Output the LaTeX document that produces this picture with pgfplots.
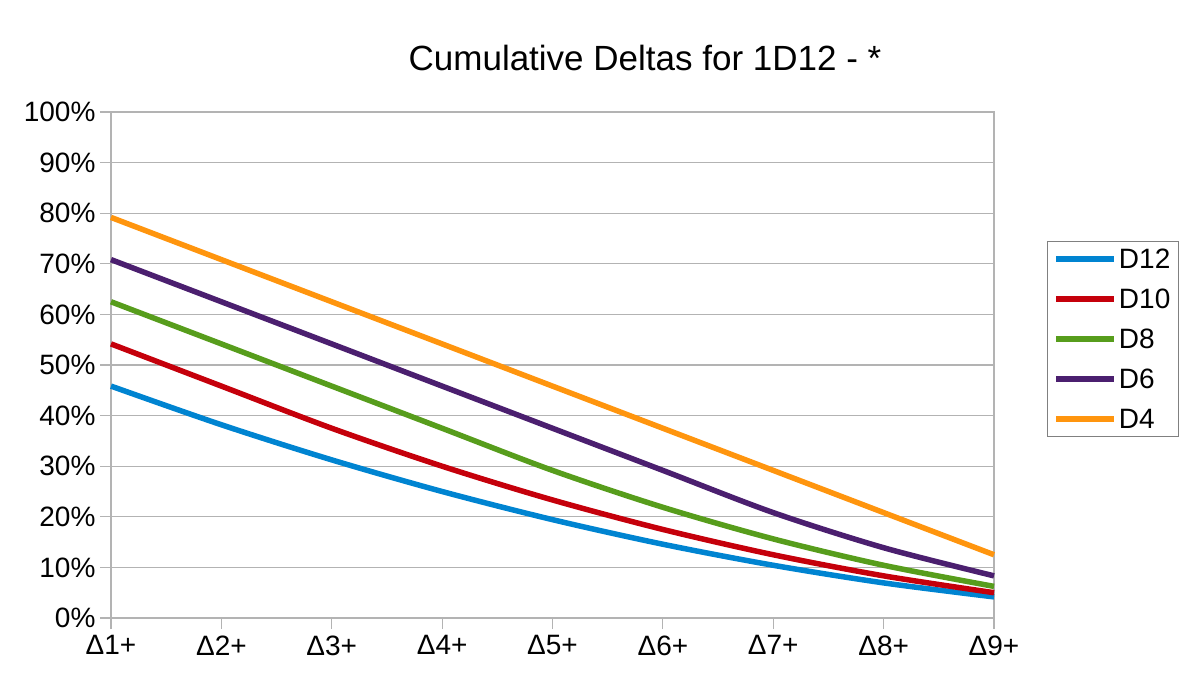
\documentclass[border=0pt]{standalone}
\usepackage{fontspec}
\setmainfont{Liberation Sans}
\usepackage{pgfplots}
\pgfplotsset{compat=1.18}

\definecolor{cD12}{HTML}{0084D1}
\definecolor{cD10}{HTML}{C5000B}
\definecolor{cD8}{HTML}{579D1C}
\definecolor{cD6}{HTML}{4B1F6F}
\definecolor{cD4}{HTML}{FF950E}
\definecolor{gridgray}{HTML}{B3B3B3}

\begin{document}
\begin{tikzpicture}[x=1pt,y=1pt]
\path[use as bounding box] (0,0) rectangle (1198,681);
\node[anchor=base, font=\fontsize{35}{40}\selectfont] at (645,610) {Cumulative Deltas for 1D12 - *};
\begin{axis}[
    at={(111pt,63pt)}, anchor=south west,
    scale only axis,
    width=883pt, height=506pt,
    xmin=1, xmax=9,
    ymin=0, ymax=100,
    xtick={1,...,9},
    xticklabels={Δ1+,Δ2+,Δ3+,Δ4+,Δ5+,Δ6+,Δ7+,Δ8+,Δ9+},
    ytick={0,10,...,100},
    yticklabels={0\%,10\%,20\%,30\%,40\%,50\%,60\%,70\%,80\%,90\%,100\%},
    tick label style={font=\fontsize{28}{32}\selectfont},
    xticklabel style={yshift=-3pt},
    yticklabel style={xshift=-1pt},
    xtick pos=bottom, ytick pos=left,
    tick align=outside,
    major tick length=11pt,
    tick style={gridgray, line width=1.2pt},
    axis line style={gridgray, line width=1.2pt},
    ymajorgrids,
    grid style={gridgray, line width=1.2pt},
    clip=false,
    every axis plot/.append style={line width=5.5pt, smooth},
    legend style={at={(1.060,0.745)}, anchor=north west,
        draw=gray, line width=1pt,
        font=\fontsize{28}{32}\selectfont,
        inner xsep=6pt, inner ysep=5pt,
        row sep=15pt,
        /tikz/every odd column/.append style={column sep=0pt},
        cells={anchor=west}},
    legend image code/.code={\draw[#1, line width=5.5pt] (0pt,0pt) -- (58pt,0pt);},
]
% D12
\addplot[cD12] coordinates {(1,45.83) (2,38.19) (3,31.25) (4,25.00) (5,19.44) (6,14.58) (7,10.42) (8,6.94) (9,4.17)};
\addlegendentry{D12}
% D10
\addplot[cD10] coordinates {(1,54.17) (2,45.83) (3,37.50) (4,30.00) (5,23.33) (6,17.50) (7,12.50) (8,8.33) (9,5.00)};
\addlegendentry{D10}
% D8
\addplot[cD8] coordinates {(1,62.50) (2,54.17) (3,45.83) (4,37.50) (5,29.17) (6,21.88) (7,15.63) (8,10.42) (9,6.25)};
\addlegendentry{D8}
% D6
\addplot[cD6] coordinates {(1,70.83) (2,62.50) (3,54.17) (4,45.83) (5,37.50) (6,29.17) (7,20.83) (8,13.89) (9,8.33)};
\addlegendentry{D6}
% D4
\addplot[cD4] coordinates {(1,79.17) (2,70.83) (3,62.50) (4,54.17) (5,45.83) (6,37.50) (7,29.17) (8,20.83) (9,12.50)};
\addlegendentry{D4}
\end{axis}
\end{tikzpicture}
\end{document}
